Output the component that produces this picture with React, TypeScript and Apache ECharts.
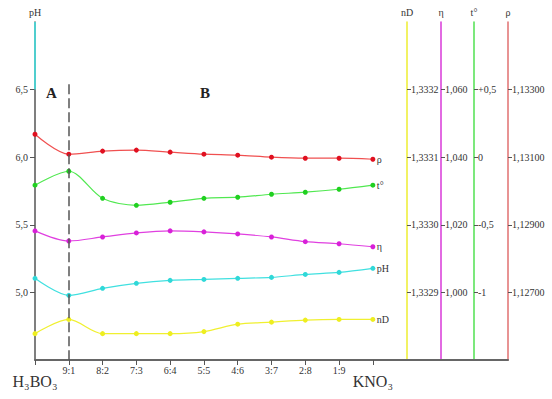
import React, { useEffect, useRef } from "react";
import * as echarts from "echarts";

const categories = ["H₃BO₃", "9:1", "8:2", "7:3", "6:4", "5:5", "4:6", "3:7", "2:8", "1:9", "KNO₃", "", "", "", ""];

const rhoValues = [1.13168, 1.13109, 1.13118, 1.13121, 1.13115, 1.13109, 1.13106, 1.131, 1.13097, 1.13097, 1.13094];
const tValues = [-0.207, -0.104, -0.304, -0.356, -0.333, -0.304, -0.296, -0.274, -0.259, -0.237, -0.207];
const etaValues = [1.0182, 1.0152, 1.0164, 1.0176, 1.0182, 1.0179, 1.0173, 1.0164, 1.015, 1.0144, 1.0135];
const phValues = [5.104, 4.978, 5.03, 5.067, 5.089, 5.096, 5.104, 5.111, 5.133, 5.148, 5.178];
const ndValues = [1.332839, 1.33286, 1.332839, 1.332839, 1.332839, 1.332842, 1.332853, 1.332856, 1.332859, 1.33286, 1.33286];

const phTicks = [5.0, 5.5, 6.0, 6.5];
const ndTicks = [1.3329, 1.333, 1.3331, 1.3332];
const etaTicks = [1.0, 1.02, 1.04, 1.06];
const tTicks = [-1, -0.5, 0, 0.5];
const rhoTicks = [1.127, 1.129, 1.131, 1.133];

const FONT = '"Liberation Serif", "Times New Roman", serif';
const TXT = "#333";

function comma(s: string) {
  return s.replace(".", ",");
}

export default function App() {
  const ref = useRef<HTMLDivElement>(null);
  useEffect(() => {
    document.body.style.margin = "0";
    if (!ref.current) return;
    const chart = echarts.init(ref.current, undefined, { renderer: "svg" });

    const rightAxis = (
      name: string,
      min: number,
      max: number,
      offset: number,
      color: string,
      ticks: number[],
      fmt: (v: number) => string
    ) => ({
      type: "value",
      position: "right",
      offset,
      min,
      max,
      name,
      nameGap: 5,
      nameTextStyle: { color: TXT, fontSize: 10, fontFamily: FONT, align: "center" },
      axisLine: { show: true, onZero: false, lineStyle: { color, width: 1.5 } },
      axisTick: { show: true, length: 4, customValues: ticks, lineStyle: { color: "#555" } },
      axisLabel: { show: true, margin: 4, customValues: ticks, formatter: fmt, color: TXT, fontSize: 10, fontFamily: FONT },
      splitLine: { show: false },
    });

    const lineSeries = (name: string, data: number[], yAxisIndex: number, lineColor: string, dotColor: string) => ({
      type: "line",
      name,
      data,
      yAxisIndex,
      smooth: 0.3,
      symbol: "circle",
      symbolSize: 5,
      itemStyle: { color: dotColor },
      lineStyle: { color: lineColor, width: 1.2 },
      endLabel: { show: true, formatter: name, color: TXT, fontSize: 10, fontFamily: FONT, distance: 4 },
      z: 3,
    });

    chart.setOption({
      animation: false,
      grid: { left: 35, right: 44, top: 22, bottom: 39 },
      xAxis: {
        type: "category",
        data: categories,
        boundaryGap: false,
        axisLine: { onZero: false, lineStyle: { color: "#666", width: 2 } },
        axisTick: { show: true, length: 5, interval: (i: number) => i <= 10, lineStyle: { color: "#555" } },
        axisLabel: {
          interval: 0,
          margin: 5,
          color: TXT,
          fontSize: 10,
          fontFamily: FONT,
          formatter: (v: string, i: number) => (i === 0 || i === 10 ? `{big|${v}}` : v),
          rich: {
            big: { fontSize: 16, fontFamily: FONT, color: TXT, padding: [8, 0, 0, 0] },
          },
        },
        splitLine: { show: false },
      },
      yAxis: [
        {
          type: "value",
          position: "left",
          min: 4.5,
          max: 7.0,
          name: "pH",
          nameGap: 5,
          nameTextStyle: { color: TXT, fontSize: 10, fontFamily: FONT, align: "center" },
          axisLine: { show: true, onZero: false, lineStyle: { color: "#555", width: 1.5 } },
          axisTick: { show: true, length: 5, customValues: phTicks, lineStyle: { color: "#555" } },
          axisLabel: {
            customValues: phTicks,
            margin: 7,
            formatter: (v: number) => comma(v.toFixed(1)),
            color: TXT,
            fontSize: 10,
            fontFamily: FONT,
          },
          splitLine: { show: false },
        },
        rightAxis("nD", 1.3328, 1.3333, -101, "#eeee30", ndTicks, (v) => comma(v.toFixed(4))),
        rightAxis("η", 0.98, 1.08, -67, "#d838d8", etaTicks, (v) => comma(v.toFixed(3))),
        rightAxis("t°", -1.5, 1.0, -34, "#50e050", tTicks, (v) =>
          v === 0 ? "0" : v > 0 ? "+" + comma(String(v)) : comma(String(v))
        ),
        rightAxis("ρ", 1.125, 1.135, 0, "#e07070", rhoTicks, (v) => comma(v.toFixed(5))),
      ],
      graphic: [
        { type: "text", left: 46, top: 85, style: { text: "A", font: `bold 15px ${FONT}`, fill: "#222" } },
        { type: "text", left: 200, top: 85, style: { text: "B", font: `bold 15px ${FONT}`, fill: "#222" } },
      ],
      series: [
        {
          ...lineSeries("pH", phValues, 0, "#40e0e0", "#30d8d8"),
          markLine: {
            silent: true,
            symbol: "none",
            label: { show: false },
            data: [
              [
                { xAxis: 0, yAxis: 6.5, lineStyle: { color: "#40e8e8", width: 1.5, type: "solid" } },
                { xAxis: 0, yAxis: 7.0 },
              ],
              [
                { xAxis: 1, yAxis: 6.54, lineStyle: { color: "#555", width: 1.5, type: [10, 4] } },
                { xAxis: 1, yAxis: 4.5 },
              ],
            ],
          },
        },
        lineSeries("nD", ndValues, 1, "#f0f030", "#eeee20"),
        lineSeries("η", etaValues, 2, "#e040e0", "#d820d8"),
        lineSeries("t°", tValues, 3, "#50e850", "#20d020"),
        lineSeries("ρ", rhoValues, 4, "#f05050", "#e01020"),
      ],
    });
    return () => chart.dispose();
  }, []);
  return <div ref={ref} style={{ width: 552, height: 399 }} />;
}
